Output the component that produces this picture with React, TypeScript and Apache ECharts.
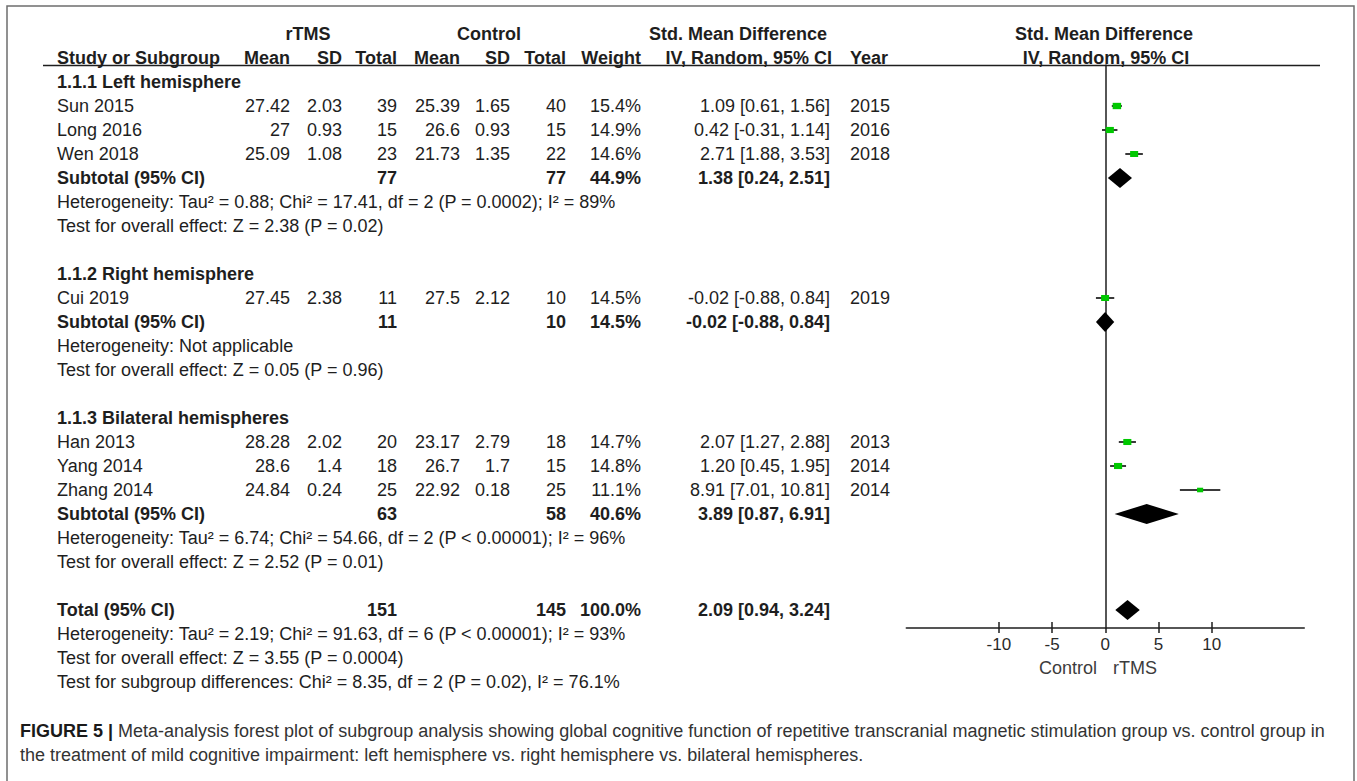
import React, { useEffect, useRef } from "react";
import * as echarts from "echarts";

// ---------- data ----------
const studies = ["Sun 2015", "Long 2016", "Wen 2018", "Cui 2019", "Han 2013", "Yang 2014", "Zhang 2014"];
const studyRows = [1, 2, 3, 9, 15, 16, 17];
const rtmsMean = [27.42, 27, 25.09, 27.45, 28.28, 28.6, 24.84];
const rtmsSD = [2.03, 0.93, 1.08, 2.38, 2.02, 1.4, 0.24];
const rtmsN = [39, 15, 23, 11, 20, 18, 25];
const ctrlMean = [25.39, 26.6, 21.73, 27.5, 23.17, 26.7, 22.92];
const ctrlSD = [1.65, 0.93, 1.35, 2.12, 2.79, 1.7, 0.18];
const ctrlN = [40, 15, 22, 10, 18, 15, 25];
const weights = [15.4, 14.9, 14.6, 14.5, 14.7, 14.8, 11.1];
const smd = [1.09, 0.42, 2.71, -0.02, 2.07, 1.2, 8.91];
const ciLow = [0.61, -0.31, 1.88, -0.88, 1.27, 0.45, 7.01];
const ciHigh = [1.56, 1.14, 3.53, 0.84, 2.88, 1.95, 10.81];
const years = [2015, 2016, 2018, 2019, 2013, 2014, 2014];

const groupNames = ["1.1.1 Left hemisphere", "1.1.2 Right hemisphere", "1.1.3 Bilateral hemispheres"];
const groupHeaderRows = [0, 8, 14];
const subtotalRows = [4, 10, 18];
const subRtmsN = [77, 11, 63];
const subCtrlN = [77, 10, 58];
const subWeights = [44.9, 14.5, 40.6];
const subSmd = [1.38, -0.02, 3.89];
const subLow = [0.24, -0.88, 0.87];
const subHigh = [2.51, 0.84, 6.91];
const subHet = [
  "Heterogeneity: Tau² = 0.88; Chi² = 17.41, df = 2 (P = 0.0002); I² = 89%",
  "Heterogeneity: Not applicable",
  "Heterogeneity: Tau² = 6.74; Chi² = 54.66, df = 2 (P < 0.00001); I² = 96%",
];
const subEffect = [
  "Test for overall effect: Z = 2.38 (P = 0.02)",
  "Test for overall effect: Z = 0.05 (P = 0.96)",
  "Test for overall effect: Z = 2.52 (P = 0.01)",
];

const totalRow = 22;
const totalRtmsN = 151;
const totalCtrlN = 145;
const totalWeight = 100.0;
const totalSmd = 2.09;
const totalLow = 0.94;
const totalHigh = 3.24;
const totalNotes = [
  "Heterogeneity: Tau² = 2.19; Chi² = 91.63, df = 6 (P < 0.00001); I² = 93%",
  "Test for overall effect: Z = 3.55 (P = 0.0004)",
  "Test for subgroup differences: Chi² = 8.35, df = 2 (P = 0.02), I² = 76.1%",
];

const axisTicks = [-10, -5, 0, 5, 10];
const axisLeftLabel = "Control";
const axisRightLabel = "rTMS";

const captionBold = "FIGURE 5 |";
const captionLine1 =
  " Meta-analysis forest plot of subgroup analysis showing global cognitive function of repetitive transcranial magnetic stimulation group vs. control group in";
const captionLine2 =
  "the treatment of mild cognitive impairment: left hemisphere vs. right hemisphere vs. bilateral hemispheres.";

// ---------- layout ----------
const FONT = "'Liberation Sans', Arial, Helvetica, sans-serif";
const FS = 18;
const ROW0 = 82;
const ROWH = 24;
const rowY = (k: number) => ROW0 + ROWH * k;
const GRID_TOP = 65;
const GRID_BOTTOM = 628;
const ZERO_X = 1105.3;
const PX_PER_UNIT = 10.64;
const X_MIN = -18.7;
const X_MAX = 18.7;
const GRID_LEFT = ZERO_X + X_MIN * PX_PER_UNIT;
const GRID_W = (X_MAX - X_MIN) * PX_PER_UNIT;

const COL = {
  name: 57,
  rMean: 290,
  rSD: 342,
  rN: 397,
  cMean: 460,
  cSD: 510,
  cN: 566,
  w: 641,
  ci: 830,
  year: 850,
};

const TEXT_COLOR = "#1e1e1e";

function txt(x: number, y: number, text: string, align: string, bold = false, opts: any = {}) {
  return {
    type: "text",
    x,
    y,
    silent: true,
    style: {
      text,
      fill: opts.color || TEXT_COLOR,
      fontSize: opts.fontSize || FS,
      fontWeight: bold ? "bold" : "normal",
      fontFamily: opts.fontFamily || FONT,
      align,
      textAlign: align,
      verticalAlign: "middle",
      textVerticalAlign: "middle",
    },
  };
}

const fmtCI = (v: number, l: number, h: number) =>
  `${v.toFixed(2)} [${l.toFixed(2)}, ${h.toFixed(2)}]`;

function buildGraphics() {
  const g: any[] = [];
  // frame
  g.push({
    type: "rect",
    shape: { x: 7, y: 6, width: 1347, height: 820 },
    style: { fill: "none", stroke: "#6e6e6e", lineWidth: 1.5 },
    silent: true,
  });
  // header underline
  g.push({
    type: "line",
    shape: { x1: 43, y1: GRID_TOP + 0.5, x2: 1320, y2: GRID_TOP + 0.5 },
    style: { stroke: "#1e1e1e", lineWidth: 1.5 },
    silent: true,
  });
  // headers
  const h1 = rowY(-2);
  const h2 = rowY(-1);
  g.push(txt(308, h1, "rTMS", "center", true));
  g.push(txt(489, h1, "Control", "center", true));
  g.push(txt(738, h1, "Std. Mean Difference", "center", true));
  g.push(txt(1104, h1, "Std. Mean Difference", "center", true));
  g.push(txt(COL.name, h2, "Study or Subgroup", "left", true));
  g.push(txt(COL.rMean, h2, "Mean", "right", true));
  g.push(txt(COL.rSD, h2, "SD", "right", true));
  g.push(txt(COL.rN, h2, "Total", "right", true));
  g.push(txt(COL.cMean, h2, "Mean", "right", true));
  g.push(txt(COL.cSD, h2, "SD", "right", true));
  g.push(txt(COL.cN, h2, "Total", "right", true));
  g.push(txt(COL.w, h2, "Weight", "right", true));
  g.push(txt(832, h2, "IV, Random, 95% CI", "right", true));
  g.push(txt(COL.year, h2, "Year", "left", true));
  g.push(txt(1106, h2, "IV, Random, 95% CI", "center", true));

  // study rows
  studies.forEach((s, i) => {
    const y = rowY(studyRows[i]);
    g.push(txt(COL.name, y, s, "left"));
    g.push(txt(COL.rMean, y, String(rtmsMean[i]), "right"));
    g.push(txt(COL.rSD, y, String(rtmsSD[i]), "right"));
    g.push(txt(COL.rN, y, String(rtmsN[i]), "right"));
    g.push(txt(COL.cMean, y, String(ctrlMean[i]), "right"));
    g.push(txt(COL.cSD, y, String(ctrlSD[i]), "right"));
    g.push(txt(COL.cN, y, String(ctrlN[i]), "right"));
    g.push(txt(COL.w, y, weights[i].toFixed(1) + "%", "right"));
    g.push(txt(COL.ci, y, fmtCI(smd[i], ciLow[i], ciHigh[i]), "right"));
    g.push(txt(COL.year, y, String(years[i]), "left"));
  });

  // subgroups
  groupNames.forEach((n, j) => {
    g.push(txt(COL.name, rowY(groupHeaderRows[j]), n, "left", true));
    const y = rowY(subtotalRows[j]);
    g.push(txt(COL.name, y, "Subtotal (95% CI)", "left", true));
    g.push(txt(COL.rN, y, String(subRtmsN[j]), "right", true));
    g.push(txt(COL.cN, y, String(subCtrlN[j]), "right", true));
    g.push(txt(COL.w, y, subWeights[j].toFixed(1) + "%", "right", true));
    g.push(txt(COL.ci, y, fmtCI(subSmd[j], subLow[j], subHigh[j]), "right", true));
    g.push(txt(COL.name, rowY(subtotalRows[j] + 1), subHet[j], "left"));
    g.push(txt(COL.name, rowY(subtotalRows[j] + 2), subEffect[j], "left"));
  });

  // total
  const ty = rowY(totalRow);
  g.push(txt(COL.name, ty, "Total (95% CI)", "left", true));
  g.push(txt(COL.rN, ty, String(totalRtmsN), "right", true));
  g.push(txt(COL.cN, ty, String(totalCtrlN), "right", true));
  g.push(txt(COL.w, ty, totalWeight.toFixed(1) + "%", "right", true));
  g.push(txt(COL.ci, ty, fmtCI(totalSmd, totalLow, totalHigh), "right", true));
  totalNotes.forEach((t, k) => g.push(txt(COL.name, rowY(totalRow + 1 + k), t, "left")));

  // axis side labels
  g.push(txt(1097, 668, axisLeftLabel, "right", false, { fontSize: 18, color: "#3c3c3c" }));
  g.push(txt(1113, 668, axisRightLabel, "left", false, { fontSize: 18, color: "#3c3c3c" }));

  // caption
  g.push({
    type: "text",
    x: 20,
    y: 731,
    silent: true,
    style: {
      text: `{b|${captionBold}}${captionLine1}`,
      fill: "#333",
      fontSize: 18,
      fontFamily: FONT,
      verticalAlign: "middle",
      textVerticalAlign: "middle",
      rich: { b: { fontWeight: "bold", fill: "#1a1a1a", fontSize: 18, fontFamily: FONT } },
    },
  });
  g.push(txt(20, 755, captionLine2, "left", false, { fontSize: 18, color: "#333" }));
  return g;
}

const studyData = studies.map((_, i) => [smd[i], ciLow[i], ciHigh[i], studyRows[i], weights[i]]);
const diamondData = [
  ...subSmd.map((v, j) => [v, subLow[j], subHigh[j], subtotalRows[j]]),
  [totalSmd, totalLow, totalHigh, totalRow],
];

export default function App() {
  const ref = useRef<HTMLDivElement>(null);
  useEffect(() => {
    if (!ref.current) return;
    const chart = echarts.init(ref.current, undefined, { renderer: "svg" });
    const option: any = {
      animation: false,
      backgroundColor: "#ffffff",
      grid: {
        left: GRID_LEFT,
        top: GRID_TOP,
        width: GRID_W,
        height: GRID_BOTTOM - GRID_TOP,
        containLabel: false,
      },
      xAxis: [
        {
          type: "value",
          min: X_MIN,
          max: X_MAX,
          position: "bottom",
          axisLine: { show: true, onZero: false, lineStyle: { color: "#1e1e1e", width: 1.5 } },
          axisTick: {
            show: true,
            inside: false,
            length: 5,
            customValues: axisTicks,
            lineStyle: { color: "#1e1e1e", width: 1.5 },
          },
          axisLabel: {
            show: true,
            customValues: axisTicks,
            margin: 8,
            fontSize: 17,
            color: "#2a2a2a",
            fontFamily: FONT,
          },
          splitLine: { show: false },
        },
        {
          type: "value",
          min: X_MIN,
          max: X_MAX,
          position: "bottom",
          axisLine: { show: false, onZero: false },
          axisTick: {
            show: true,
            inside: true,
            length: 6,
            customValues: axisTicks.filter((v) => v !== 0),
            lineStyle: { color: "#1e1e1e", width: 1.5 },
          },
          axisLabel: { show: false },
          splitLine: { show: false },
        },
      ],
      yAxis: {
        type: "value",
        inverse: true,
        min: (GRID_TOP - ROW0) / ROWH,
        max: (GRID_BOTTOM - ROW0) / ROWH,
        axisLine: { show: true, onZero: true, lineStyle: { color: "#1e1e1e", width: 1.5 } },
        axisTick: { show: false },
        axisLabel: { show: false },
        splitLine: { show: false },
      },
      series: [
        {
          type: "custom",
          xAxisIndex: 0,
          yAxisIndex: 0,
          data: studyData,
          encode: { x: [0, 1, 2], y: 3 },
          renderItem: (params: any, api: any) => {
            const row = api.value(3);
            const c = api.coord([api.value(0), row]);
            const l = api.coord([api.value(1), row]);
            const h = api.coord([api.value(2), row]);
            const w = api.value(4) * 0.55;
            const hh = w * 0.75;
            return {
              type: "group",
              children: [
                {
                  type: "line",
                  shape: { x1: l[0], y1: c[1], x2: h[0], y2: c[1] },
                  style: { stroke: "#3a3a3a", lineWidth: 2 },
                },
                {
                  type: "rect",
                  shape: { x: c[0] - w / 2, y: c[1] - hh / 2, width: w, height: hh },
                  style: { fill: "#00c800" },
                },
              ],
            };
          },
        },
        {
          type: "custom",
          xAxisIndex: 0,
          yAxisIndex: 0,
          data: diamondData,
          encode: { x: [0, 1, 2], y: 3 },
          renderItem: (params: any, api: any) => {
            const row = api.value(3);
            const c = api.coord([api.value(0), row]);
            const l = api.coord([api.value(1), row]);
            const h = api.coord([api.value(2), row]);
            const half = 10;
            return {
              type: "polygon",
              shape: {
                points: [
                  [l[0], c[1]],
                  [c[0], c[1] - half],
                  [h[0], c[1]],
                  [c[0], c[1] + half],
                ],
              },
              style: { fill: "#000000" },
            };
          },
        },
      ],
      graphic: buildGraphics(),
    };
    chart.setOption(option);
    return () => chart.dispose();
  }, []);
  return (
    <div
      ref={ref}
      style={{ position: "fixed", left: 0, top: 0, width: 1357, height: 781, background: "#fff" }}
    />
  );
}
